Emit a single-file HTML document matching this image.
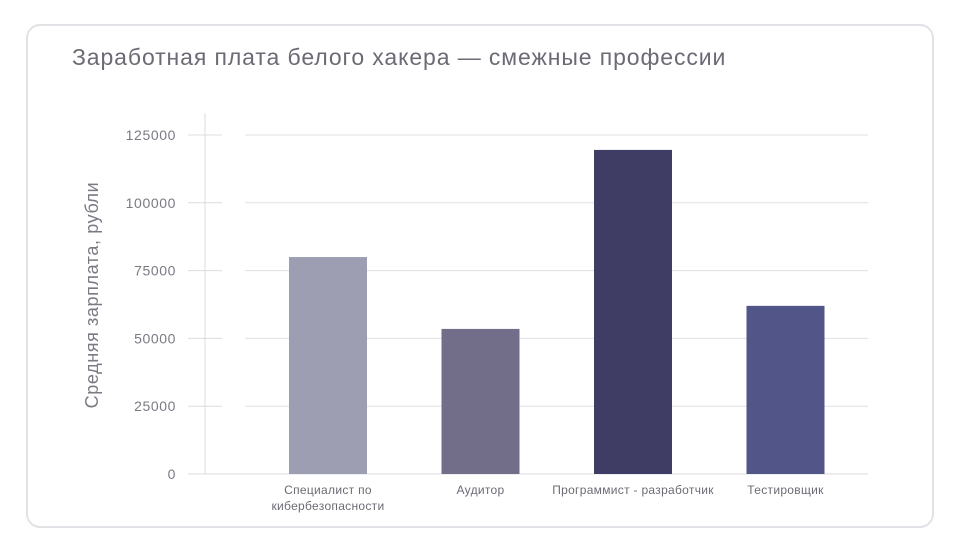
<!DOCTYPE html>
<html><head><meta charset="utf-8"><style>
body{margin:0;width:960px;height:550px;background:#fff;overflow:hidden;font-family:"Liberation Sans",sans-serif}
#card{position:absolute;left:26px;top:24px;width:908px;height:504px;border:2px solid #e2e2e6;border-radius:14px;box-sizing:border-box}
#title{position:absolute;left:72px;top:44px;font-size:23px;color:#6b6b75;letter-spacing:0.9px}
</style></head><body>
<div id="card"></div>
<div id="title">Заработная плата белого хакера — смежные профессии</div>
<svg id="chart" width="960" height="550" style="position:absolute;left:0;top:0"></svg>
<script>
const categories=[["Специалист по","кибербезопасности"],["Аудитор"],["Программист - разработчик"],["Тестировщик"]];
const values=[80000,53500,119500,62000];
const colors=["#9e9eb3","#726d89","#3f3d63","#525587"];
const ticks=[0,25000,50000,75000,100000,125000];
const ns="http://www.w3.org/2000/svg",svg=document.getElementById('chart');
const y=v=>474-v/125000*339;
const x=i=>328+i*152.5;
function mk(t,a){const e=document.createElementNS(ns,t);for(const k in a)e.setAttribute(k,a[k]);svg.appendChild(e);return e;}
const ax=mk('line',{x1:205,x2:205,y1:113,y2:474,stroke:'#dcdce0','stroke-width':1});


ticks.forEach(t=>{
 const g1=mk('line',{x1:188,x2:t===0?868:222,y1:y(t),y2:y(t),stroke:'#dcdce0','stroke-width':1});
 
 
 if(t>0){const g=mk('line',{x1:245,x2:868,y1:y(t),y2:y(t),stroke:'#e0e0e4','stroke-width':1});
 
 }
 const tx=mk('text',{x:176,y:y(t)+5,'text-anchor':'end','font-size':14,fill:'#7a7a84','letter-spacing':'0.6'});
 tx.textContent=t;
 
 
});
values.forEach((v,i)=>{
 const r=mk('rect',{x:x(i)-39,y:y(v),width:78,height:474-y(v),fill:colors[i]});
 
 
 categories[i].forEach((l,j)=>{
  const t=mk('text',{x:x(i),y:494+j*16,'text-anchor':'middle','font-size':12,fill:'#6b6b75','letter-spacing':'0.3'});
  t.textContent=l;
  
  
 });
});
const yt=mk('text',{x:0,y:0,transform:'translate(98,295) rotate(-90)','text-anchor':'middle','font-size':18,fill:'#7a7a84','letter-spacing':'0.6'});
yt.textContent='Средняя зарплата, рубли';


</script>
</body></html>
